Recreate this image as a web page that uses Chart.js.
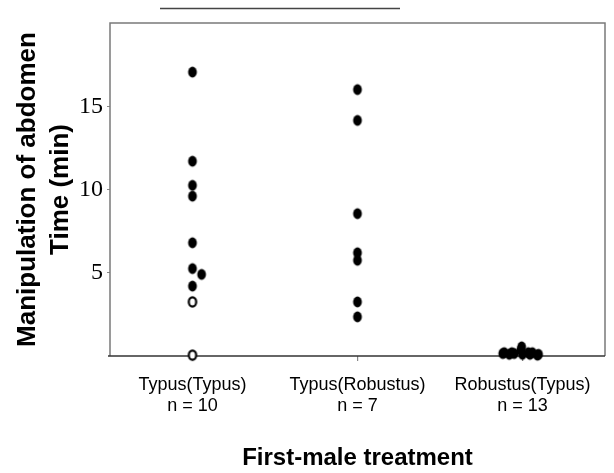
<!DOCTYPE html>
<html>
<head>
<meta charset="utf-8">
<script src="https://cdn.jsdelivr.net/npm/chart.js@4/dist/chart.umd.min.js"></script>
<style>
  html, body { margin: 0; padding: 0; background: #fff; }
  #wrap { width: 614px; height: 473px; }
</style>
</head>
<body>
<div id="wrap"><canvas id="chart" width="614" height="473"></canvas></div>
<script>
// categories and sample sizes
const categories = ['Typus(Typus)', 'Typus(Robustus)', 'Robustus(Typus)'];
const counts = [10, 7, 13];
const yTicks = [5, 10, 15];

// Typus(Typus): filled and open points (min), with small horizontal jitter
const ttTimes = [17.05, 11.7, 10.25, 9.6, 6.8, 5.25, 4.9, 4.2];
const ttJitter = [0, 0, 0, 0, 0, 0, 0.055, 0];
const ttOpenTimes = [3.25, 0.05];
const ttOpenJitter = [0, 0];

// Typus(Robustus)
const trTimes = [16.0, 14.15, 8.55, 6.2, 5.75, 3.25, 2.35];
const trJitter = [0, 0, 0, 0, 0, 0, 0];

// Robustus(Typus)
const rtTimes = [0.15, 0.2, 0.1, 0.2, 0.15, 0.35, 0.55, 0.1, 0.2, 0.1, 0.2, 0.05, 0.1];
const rtJitter = [-0.12, -0.11, -0.08, -0.065, -0.05, -0.01, -0.005, 0, 0.035, 0.045, 0.06, 0.09, 0.097];

function toPoints(cat, times, jitter) {
    return times.map((t, i) => ({ x: cat + 1 + jitter[i], y: t }));
}

// slightly tall ellipse marker like the original
function makeDot(fill, stroke) {
    const c = document.createElement('canvas');
    c.width = 12; c.height = 14;
    const g = c.getContext('2d');
    g.beginPath();
    g.ellipse(6, 7, 4.4, 5.4, 0, 0, Math.PI * 2);
    g.fillStyle = fill;
    g.fill();
    if (stroke) {
        g.beginPath();
        g.ellipse(6, 7, 3.7, 4.6, 0, 0, Math.PI * 2);
        g.lineWidth = 2.2;
        g.strokeStyle = stroke;
        g.stroke();
    }
    return c;
}

const filledDot = makeDot('#000');
const openDot = makeDot('#fff', '#000');

const frame = {
    id: 'frame',
    beforeDatasetsDraw(chart) {
        const { ctx, chartArea: a } = chart;
        ctx.save();
        ctx.strokeStyle = '#7a7a7a';
        ctx.lineWidth = 1.5;
        ctx.beginPath();
        ctx.moveTo(a.left, a.bottom);
        ctx.lineTo(a.left, a.top);
        ctx.lineTo(a.right, a.top);
        ctx.lineTo(a.right, a.bottom);
        ctx.stroke();
        ctx.strokeStyle = '#333';
        ctx.beginPath();
        ctx.moveTo(a.left - 2, a.bottom);
        ctx.lineTo(a.right, a.bottom);
        ctx.stroke();
        // loose line above the plot
        ctx.strokeStyle = '#444';
        ctx.lineWidth = 1.6;
        ctx.beginPath();
        ctx.moveTo(160, 8.5);
        ctx.lineTo(400, 8.5);
        ctx.stroke();
        ctx.restore();
    }
};

new Chart(document.getElementById('chart').getContext('2d'), {
    type: 'scatter',
    data: {
        datasets: [
            { data: toPoints(0, ttTimes, ttJitter), pointStyle: filledDot },
            { data: toPoints(0, ttOpenTimes, ttOpenJitter), pointStyle: openDot },
            { data: toPoints(1, trTimes, trJitter), pointStyle: filledDot },
            { data: toPoints(2, rtTimes, rtJitter), pointStyle: filledDot }
        ]
    },
    options: {
        responsive: false,
        animation: false,
        layout: { padding: { top: 23, right: 9, left: 0, bottom: 0 } },
        plugins: { legend: { display: false }, tooltip: { enabled: false } },
        elements: { point: { radius: 5, hoverRadius: 5 } },
        datasets: { scatter: { clip: false } },
        scales: {
            x: {
                type: 'linear',
                min: 0.5,
                max: 3.5,
                afterBuildTicks: s => { s.ticks = [1, 2, 3].map(v => ({ value: v })); },
                afterFit: s => { s.height = 117; },
                border: { display: false },
                grid: { drawOnChartArea: false, drawTicks: true, tickLength: 5, color: '#888', lineWidth: 1.2 },
                ticks: {
                    padding: 13,
                    maxRotation: 0,
                    color: '#000',
                    font: { family: '"Liberation Sans", Arial, sans-serif', size: 18, lineHeight: 1.2 },
                    callback: v => [categories[v - 1], 'n = ' + counts[v - 1]]
                },
                title: {
                    display: true,
                    text: 'First-male treatment',
                    color: '#000',
                    padding: { top: 18, bottom: 0 },
                    font: { family: '"Liberation Sans", Arial, sans-serif', size: 24, weight: 'bold' }
                }
            },
            y: {
                min: 0,
                max: 20,
                afterBuildTicks: s => { s.ticks = yTicks.map(v => ({ value: v })); },
                afterFit: s => { s.width = 110; },
                border: { display: false },
                grid: { drawOnChartArea: false, drawTicks: true, tickLength: 3, color: '#888' },
                ticks: {
                    padding: 4,
                    color: '#000',
                    font: { family: '"Liberation Serif", "Times New Roman", serif', size: 24 }
                },
                title: {
                    display: true,
                    text: ['Manipulation of abdomen', 'Time (min)'],
                    color: '#000',
                    padding: { top: 11, bottom: 0 },
                    font: { family: '"Liberation Sans", Arial, sans-serif', size: 26, weight: 'bold', lineHeight: 1.27 }
                }
            }
        }
    },
    plugins: [frame]
});
</script>
</body>
</html>
